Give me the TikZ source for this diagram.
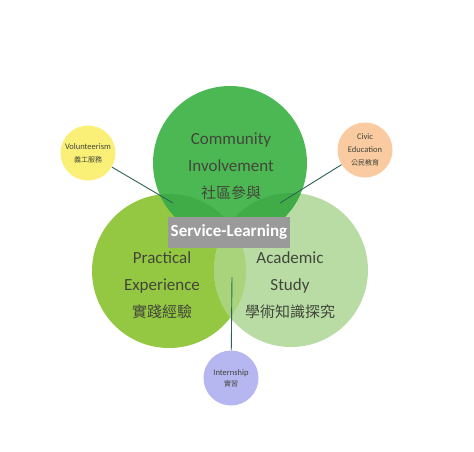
\documentclass[tikz,border=0pt]{standalone}
\usepackage{fontspec}
\setmainfont{Carlito}
\newfontfamily\cjk{Noto Sans CJK TC}
\usepackage{tikz}

\definecolor{topgreen}{RGB}{76,184,84}
\definecolor{topdark}{RGB}{64,172,72}
\definecolor{leftgreen}{RGB}{148,200,66}
\definecolor{rightgreen}{RGB}{184,220,164}
\definecolor{mixgreen}{RGB}{170,212,124}
\definecolor{boxgray}{RGB}{154,154,154}
\definecolor{textgray}{RGB}{66,70,58}
\definecolor{volyellow}{RGB}{250,240,120}
\definecolor{civicpeach}{RGB}{250,202,160}
\definecolor{internblue}{RGB}{182,182,240}
\definecolor{linegreen}{RGB}{46,100,80}

\begin{document}
\begin{tikzpicture}[x=1pt,y=-1pt,
  bigcircle/.style={circle, minimum size=154pt, inner sep=0pt},
  smallcircle/.style={circle, minimum size=55pt, inner sep=0pt, align=center,
    text=textgray, font=\fontsize{8.5}{13}\selectfont},
  biglabel/.style={align=center, text=textgray, font=\fontsize{17}{27}\selectfont},
  leader/.style={draw=linegreen, line width=0.9pt}]
\useasboundingbox (0,0) rectangle (474,451);

% --- big circles and their overlaps ---
\node[bigcircle, fill=leftgreen] (practical) at (169,271) {};
\node[bigcircle, fill=rightgreen] (academic) at (291,270) {};
\begin{scope}
  \clip (practical.center) circle (77pt);
  \fill[mixgreen] (academic.center) circle (77pt);
\end{scope}
\node[bigcircle, fill=topgreen] (community) at (230,163) {};
\begin{scope}
  \clip (community.center) circle (77pt);
  \fill[topdark] (practical.center) circle (77pt);
  \fill[topdark] (academic.center) circle (77pt);
\end{scope}

% --- labels of the big circles ---
\node[biglabel] (community text) at (231,166)
  {Community\\Involvement\\{\cjk\fontsize{15}{27}\selectfont 社區參與}};
\node[biglabel] (practical text) at (162,285)
  {Practical\\Experience\\{\cjk\fontsize{15}{27}\selectfont 實踐經驗}};
\node[biglabel] (academic text) at (290,285)
  {Academic\\Study\\{\cjk\fontsize{15}{27}\selectfont 學術知識探究}};

% --- centre box ---
\node[fill=boxgray, minimum width=122pt, minimum height=31pt, inner sep=0pt,
  text=white, font=\bfseries\fontsize{17}{17}\selectfont] (service) at (229,232)
  {Service-Learning};

% --- small circles ---
\node[smallcircle, fill=volyellow] (volunteer) at (88,153)
  {Volunteerism\\{\cjk\fontsize{7}{13}\selectfont 義工服務}};
\node[smallcircle, fill=civicpeach] (civic) at (365,150)
  {Civic\\Education\\{\cjk\fontsize{7}{13}\selectfont 公民教育}};
\node[smallcircle, fill=internblue, font=\fontsize{8.5}{11}\selectfont] (intern) at (231,378)
  {Internship\\{\cjk\fontsize{7}{11}\selectfont 實習}};

% --- leader lines ---
\coordinate (volunteer end) at (173,203);
\coordinate (civic end) at (280,203);
\coordinate (intern end) at (232,277);
\draw[leader] (volunteer) -- (volunteer end);
\draw[leader] (civic) -- (civic end);
\draw[leader] (intern) -- (intern end);
\end{tikzpicture}
\end{document}
